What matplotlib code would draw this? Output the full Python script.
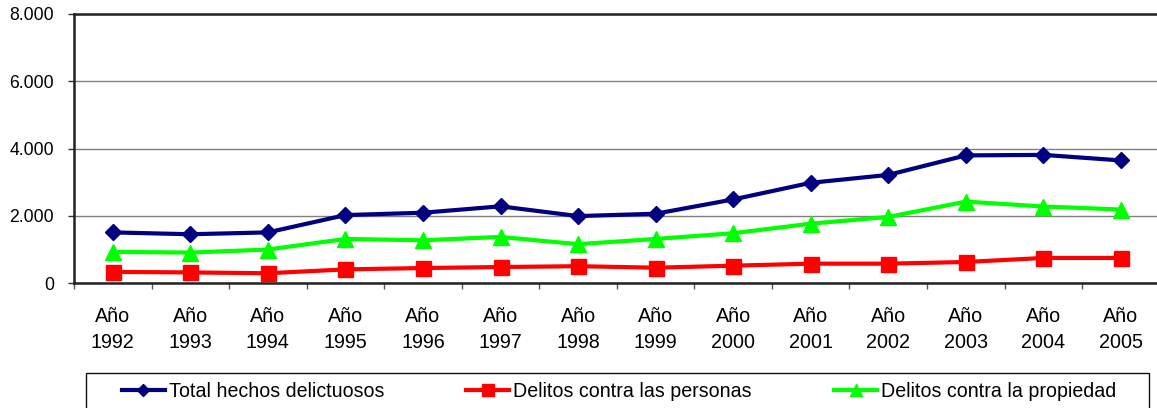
import matplotlib
matplotlib.use("Agg")
import matplotlib.pyplot as plt
from matplotlib.ticker import FixedLocator, FuncFormatter
from matplotlib.patches import Rectangle

plt.rcParams["font.family"] = ["Liberation Sans", "DejaVu Sans"]

years = [1992, 1993, 1994, 1995, 1996, 1997, 1998, 1999, 2000, 2001, 2002, 2003, 2004, 2005]
categories = [f"Año\n{y}" for y in years]

total_hechos = [1505, 1450, 1505, 2020, 2090, 2280, 1990, 2060, 2485, 2980, 3215, 3795, 3810, 3645]
contra_personas = [330, 315, 290, 405, 445, 475, 500, 455, 515, 575, 575, 625, 745, 745]
contra_propiedad = [925, 905, 995, 1310, 1270, 1370, 1155, 1310, 1480, 1765, 1965, 2420, 2275, 2185]

series_labels = ["Total hechos delictuosos", "Delitos contra las personas", "Delitos contra la propiedad"]

W, H = 1157, 408
fig = plt.figure(figsize=(W / 100, H / 100), dpi=100)
fig.patch.set_facecolor("white")

ax_left, ax_right, ax_top, ax_bottom = 74, 1159.7, 14, 283
ax = fig.add_axes([ax_left / W, 1 - ax_bottom / H, (ax_right - ax_left) / W, (ax_bottom - ax_top) / H])

x = list(range(len(years)))
l1, = ax.plot(x, total_hechos, color="#000080", lw=3.0, marker="D", ms=8.2,
              mec="#000080", mfc="#000080", label=series_labels[0], zorder=5)
l2, = ax.plot(x, contra_personas, color="#FF0000", lw=3.0, marker="s", ms=10.8,
              mec="#FF0000", mfc="#FF0000", label=series_labels[1], zorder=5)
l3, = ax.plot(x, contra_propiedad, color="#00FF00", lw=3.0, marker="^", ms=12,
              mec="#00FF00", mfc="#00FF00", label=series_labels[2], zorder=5)

ax.set_xlim(-0.5, len(years) - 0.5)
ax.set_ylim(0, 8000)

ax.yaxis.set_major_locator(FixedLocator([0, 2000, 4000, 6000, 8000]))
ax.yaxis.set_major_formatter(FuncFormatter(lambda v, p: f"{v:,.0f}".replace(",", ".")))
ax.tick_params(axis="y", direction="out", length=4.3, width=1.0, color="#333333",
               pad=10, labelsize=12.7)
ax.grid(axis="y", color="#808080", lw=1.0, zorder=0)

ax.set_xticks(x)
ax.set_xticklabels(categories, fontsize=14.2, linespacing=1.45)
ax.tick_params(axis="x", which="major", length=0, pad=17.5)
ax.set_xticks([i - 0.5 for i in range(len(years) + 1)], minor=True)
ax.tick_params(axis="x", which="minor", direction="out", length=4.3, width=1.0, color="#555555")

for side in ["left", "bottom", "top"]:
    ax.spines[side].set_color("#222222")
    ax.spines[side].set_linewidth(1.8)
ax.spines["right"].set_visible(False)

# legend frame running off the bottom edge
fig.patches.append(Rectangle((86 / W, -0.05), (1149 - 86) / W, 0.05 + (H - 372.7) / H,
                             transform=fig.transFigure, fill=False, ec="#111111", lw=1.0))

leg = fig.legend(handles=[l1, l2, l3], loc="center left",
                 bbox_to_anchor=(121.7 / W, (H - 391.5) / H), ncol=3, frameon=False,
                 fontsize=14.1, handlelength=2.2, handletextpad=0.2, columnspacing=4.2,
                 borderpad=0, borderaxespad=0)
for h, ms in zip(leg.legend_handles, [6, 8, 8.5]):
    h.set_markersize(ms)

fig.savefig("out.png", dpi=100, facecolor="white")
